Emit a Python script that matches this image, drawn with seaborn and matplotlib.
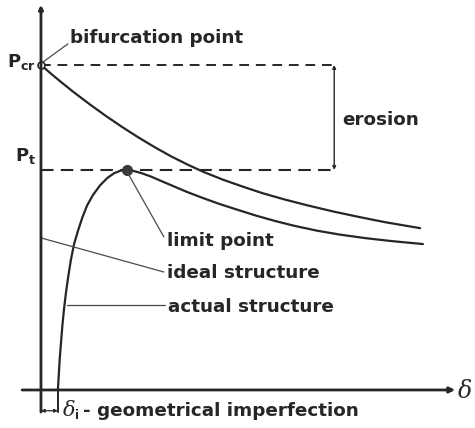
import matplotlib
matplotlib.use("Agg")
import matplotlib.pyplot as plt
import seaborn as sns
import pandas as pd

# Load-deflection curves (deflection delta, load P normalised to P_cr)
ideal_delta = [0.00, 0.03, 0.06, 0.10, 0.15, 0.20, 0.25, 0.30, 0.35, 0.40,
               0.45, 0.50, 0.56, 0.62, 0.68, 0.75, 0.82, 0.90, 0.98, 1.06,
               1.166]
ideal_P = [1.000, 0.974, 0.949, 0.917, 0.879, 0.843, 0.809, 0.777, 0.747,
           0.719, 0.694, 0.671, 0.647, 0.626, 0.606, 0.586, 0.568, 0.549,
           0.532, 0.516, 0.498]

actual_delta = [0.052, 0.055, 0.058, 0.062, 0.066, 0.071, 0.077, 0.084, 0.092,
                0.102, 0.114, 0.127, 0.142, 0.160, 0.182, 0.205, 0.225, 0.245,
                0.265, 0.285, 0.310, 0.340, 0.370, 0.410, 0.450, 0.500, 0.550,
                0.600, 0.660, 0.720, 0.780, 0.850, 0.920, 1.000, 1.080, 1.175]
actual_P = [0.000, 0.050, 0.100, 0.150, 0.200, 0.250, 0.300, 0.350, 0.400,
            0.450, 0.490, 0.530, 0.568, 0.600, 0.630, 0.653, 0.667, 0.675,
            0.677, 0.674, 0.667, 0.656, 0.643, 0.626, 0.609, 0.590, 0.572,
            0.556, 0.537, 0.520, 0.505, 0.490, 0.478, 0.467, 0.458, 0.449]

P_cr = 1.0
P_t = 0.677
delta_limit = 0.265
delta_i = 0.052
erosion_x = 0.902

sns.set_theme(style="white")
plt.rcParams["font.family"] = ["DejaVu Sans"]
plt.rcParams["mathtext.fontset"] = "dejavusans"

ink = "#262626"
thin = "#4a4a4a"

fig = plt.figure(figsize=(4.75, 4.28), dpi=100)
ax = fig.add_axes([0, 0, 1, 1])
ax.set_xlim(-0.126, 1.335)
ax.set_ylim(-0.117, 1.2)
ax.axis("off")

ideal = pd.DataFrame({"delta": ideal_delta, "P": ideal_P})
actual = pd.DataFrame({"delta": actual_delta, "P": actual_P})
sns.lineplot(data=ideal, x="delta", y="P", ax=ax, color=ink, lw=1.6,
             sort=False, estimator=None)
sns.lineplot(data=actual, x="delta", y="P", ax=ax, color=ink, lw=1.6,
             sort=False, estimator=None)

# coordinate axes
ax.annotate("", xy=(1.274, 0), xytext=(-0.058, 0),
            arrowprops=dict(arrowstyle="-|>", lw=2.0, color=ink,
                            mutation_scale=8, shrinkA=0, shrinkB=0))
ax.annotate("", xy=(0, 1.185), xytext=(0, -0.068),
            arrowprops=dict(arrowstyle="-|>", lw=2.0, color=ink,
                            mutation_scale=6, shrinkA=0, shrinkB=0))

# load levels
ax.plot([0, erosion_x], [P_cr, P_cr], color=ink, lw=1.4, dashes=(5, 3.5))
ax.plot([0, erosion_x], [P_t, P_t], color=ink, lw=1.5, dashes=(6, 3.5))
ax.annotate("", xy=(erosion_x, P_cr), xytext=(erosion_x, P_t),
            arrowprops=dict(arrowstyle="<|-|>", lw=1.0, color=ink,
                            mutation_scale=5, shrinkA=0, shrinkB=0))

# bifurcation and limit points
ax.plot([0], [P_cr], marker="o", ms=5, mfc="white", mec=ink, mew=1.2)
ax.plot([delta_limit], [P_t], marker="o", ms=7, mfc="#3a3a3a", mec="#3a3a3a")

# imperfection marker
ax.plot([delta_i, delta_i], [0, -0.068], color=ink, lw=1.4)
ax.annotate("", xy=(delta_i, -0.064), xytext=(0, -0.064),
            arrowprops=dict(arrowstyle="<|-|>", lw=0.9, color=ink,
                            mutation_scale=5, shrinkA=0, shrinkB=0))

# leader lines
ax.plot([0.006, 0.083], [1.009, 1.065], color=thin, lw=0.9)
ax.plot([delta_limit, 0.378], [0.671, 0.471], color=thin, lw=0.9)
ax.plot([0.0, 0.378], [0.468, 0.363], color=thin, lw=0.9)
ax.plot([0.08, 0.382], [0.262, 0.262], color=thin, lw=0.9)

lab = dict(fontsize=13.2, fontweight="bold", color=ink, va="center", ha="left")
ax.text(0.089, 1.083, "bifurcation point", **lab)
ax.text(0.926, 0.831, "erosion", **lab)
ax.text(0.388, 0.458, "limit point", **lab)
ax.text(0.388, 0.360, "ideal structure", **lab)
ax.text(0.391, 0.255, "actual structure", **lab)
ax.text(0.130, -0.064, "- geometrical imperfection", **lab)

ax.text(-0.016, 1.01, r"$\mathbf{P}_{\mathbf{cr}}$", fontsize=13, color=ink,
        ha="right", va="center")
ax.text(-0.016, 0.72, r"$\mathbf{P}_{\mathbf{t}}$", fontsize=13, color=ink,
        ha="right", va="center")

ax.text(1.283, -0.006, "δ", fontsize=17, family="DejaVu Serif",
        style="italic", color=ink, ha="left", va="center")
ax.text(0.068, -0.062, "δ", fontsize=15, family="DejaVu Serif",
        style="italic", color=ink, ha="left", va="center")
ax.text(0.104, -0.080, "i", fontsize=8.5, fontweight="bold", color=ink,
        ha="left", va="center")

fig.savefig("out.png", dpi=100)
